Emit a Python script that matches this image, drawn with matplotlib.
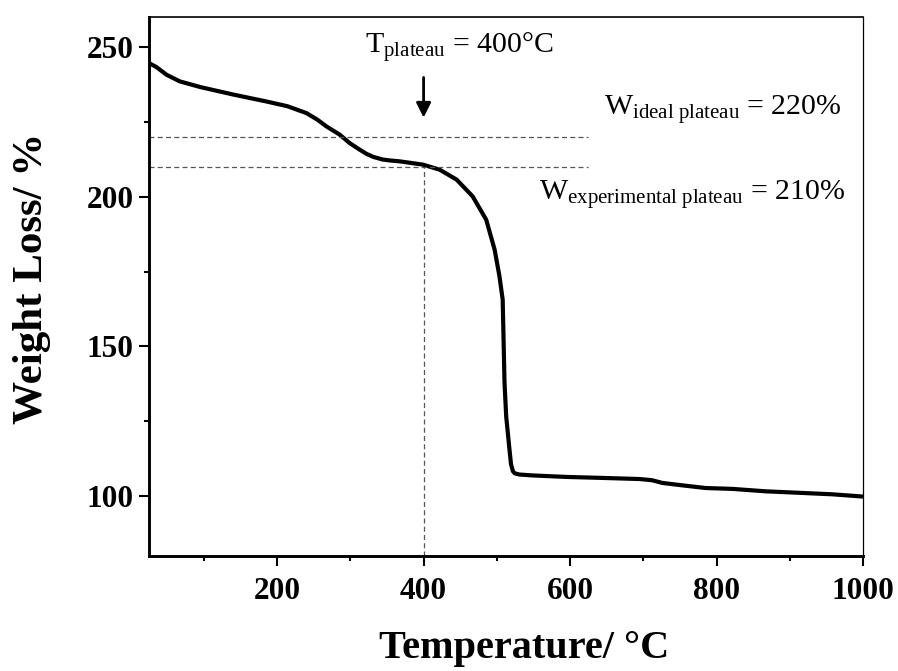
import matplotlib
matplotlib.use("Agg")
import matplotlib.pyplot as plt

plt.rcParams['font.family'] = ['Liberation Serif', 'DejaVu Serif']
plt.rcParams['mathtext.fontset'] = 'custom'
plt.rcParams['mathtext.rm'] = 'Liberation Serif'
plt.rcParams['mathtext.it'] = 'Liberation Serif:italic'
plt.rcParams['mathtext.bf'] = 'Liberation Serif:bold'

# TGA curve
temperature = [25, 35, 49, 67, 95, 140, 185, 214, 240, 255, 267, 285.5, 299,
               312.7, 322, 331, 344, 353.6, 367, 399, 422, 445, 467, 485.5,
               497, 503.6, 508, 509, 510.5, 512.8, 517.3, 519.4, 522, 524.5,
               531, 549, 595, 640, 695, 712, 726, 753, 785, 822, 867, 913,
               958, 997, 1000]
weight = [244.6, 243.3, 240.7, 238.5, 236.6, 234.1, 231.8, 230.2, 227.9,
          225.7, 223.5, 220.7, 217.9, 215.7, 214.3, 213.3, 212.4, 212.1,
          211.8, 210.7, 209.0, 205.7, 200.1, 192.3, 182.3, 173.4, 165.6,
          154.6, 137.9, 126.6, 115.5, 110.6, 108.3, 107.6, 107.2, 106.9,
          106.4, 106.1, 105.7, 105.3, 104.4, 103.6, 102.7, 102.4, 101.6,
          101.1, 100.6, 99.9, 99.8]

t_plateau = 400
w_ideal = 220
w_experimental = 210
guide_end = 625

fig = plt.figure(figsize=(8.98, 6.71), dpi=100)
ax = fig.add_axes([0.1659, 0.1714, 0.7951, 0.8033])

ax.plot(temperature, weight, color='black', lw=3,
        solid_joinstyle='round', solid_capstyle='butt')

dash = dict(color='#555555', lw=0.9, dashes=(4, 2.6))
ax.plot([25, guide_end], [w_ideal, w_ideal], **dash)
ax.plot([25, guide_end], [w_experimental, w_experimental], **dash)
ax.plot([t_plateau, t_plateau], [80, w_experimental], **dash)

ax.annotate('', xy=(t_plateau, 226.4), xytext=(t_plateau, 239.8),
            arrowprops=dict(arrowstyle='-|>', lw=2, color='black',
                            mutation_scale=22, shrinkA=0, shrinkB=0))

ax.text(320, 248, r'$\mathrm{T}_{\mathrm{plateau}}$' + f' = {t_plateau}°C',
        fontsize=21.5, ha='left', va='baseline')
ax.text(647, 227.4, r'$\mathrm{W}_{\mathrm{ideal\ plateau}}$' + f' = {w_ideal}%',
        fontsize=21.5, ha='left', va='baseline')
ax.text(558, 199, r'$\mathrm{W}_{\mathrm{experimental\ plateau}}$' + f' = {w_experimental}%',
        fontsize=21.5, ha='left', va='baseline')

ax.set_xlim(25, 1000)
ax.set_ylim(80, 260)
ax.set_xticks([200, 400, 600, 800, 1000])
ax.set_xticks([100, 300, 500, 700, 900], minor=True)
ax.set_yticks([100, 150, 200, 250])
ax.set_yticks([125, 175, 225], minor=True)

ax.spines['left'].set_linewidth(2.1)
ax.spines['bottom'].set_linewidth(2.1)
ax.spines['top'].set_linewidth(1.2)
ax.spines['right'].set_linewidth(0.9)

ax.tick_params(which='major', length=7.2, width=1.5, labelsize=22.5)
ax.tick_params(axis='x', which='major', pad=8)
ax.tick_params(axis='y', which='major', pad=4)
ax.tick_params(which='minor', length=3.5, width=1.5)
ax.tick_params(top=False, right=False, which='both')
for lab in ax.get_xticklabels() + ax.get_yticklabels():
    lab.set_fontweight('bold')

fig.text(0.5835, 0.034, 'Temperature/ °C', fontsize=29, fontweight='bold',
         ha='center', va='center')
fig.text(0.0356, 0.585, 'Weight Loss/ %', fontsize=31, fontweight='bold',
         ha='center', va='center', rotation=90)

fig.savefig('out.png', dpi=100)
